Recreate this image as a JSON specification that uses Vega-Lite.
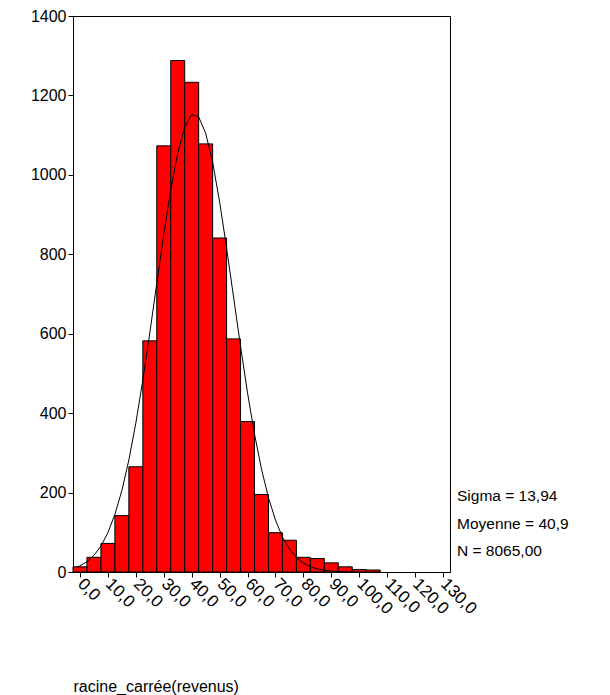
{
  "$schema": "https://vega.github.io/schema/vega-lite/v6.json",
  "width": 377,
  "height": 556,
  "autosize": {"type": "none"},
  "padding": {"left": 73, "top": 16, "right": 160, "bottom": 123},
  "background": "white",
  "config": {
    "font": "Liberation Sans",
    "view": {"stroke": "black", "strokeWidth": 1},
    "axis": {"grid": false, "domainColor": "black", "tickColor": "black", "labelColor": "black", "titleColor": "black", "labelFont": "Liberation Sans", "titleFont": "Liberation Sans", "labelFontSize": 16, "titleFontSize": 16, "titleFontWeight": "normal", "tickSize": 5}
  },
  "datasets": {
    "bins": [
      {"lo": -2.5, "hi": 2.5, "count": 13},
      {"lo": 2.5, "hi": 7.5, "count": 37},
      {"lo": 7.5, "hi": 12.5, "count": 72},
      {"lo": 12.5, "hi": 17.5, "count": 142},
      {"lo": 17.5, "hi": 22.5, "count": 265},
      {"lo": 22.5, "hi": 27.5, "count": 582},
      {"lo": 27.5, "hi": 32.5, "count": 1073},
      {"lo": 32.5, "hi": 37.5, "count": 1288},
      {"lo": 37.5, "hi": 42.5, "count": 1233},
      {"lo": 42.5, "hi": 47.5, "count": 1078},
      {"lo": 47.5, "hi": 52.5, "count": 841},
      {"lo": 52.5, "hi": 57.5, "count": 587},
      {"lo": 57.5, "hi": 62.5, "count": 379},
      {"lo": 62.5, "hi": 67.5, "count": 195},
      {"lo": 67.5, "hi": 72.5, "count": 99},
      {"lo": 72.5, "hi": 77.5, "count": 80},
      {"lo": 77.5, "hi": 82.5, "count": 37},
      {"lo": 82.5, "hi": 87.5, "count": 34},
      {"lo": 87.5, "hi": 92.5, "count": 23},
      {"lo": 92.5, "hi": 97.5, "count": 13},
      {"lo": 97.5, "hi": 102.5, "count": 6},
      {"lo": 102.5, "hi": 107.5, "count": 5}
    ],
    "curve": [
      {"lo": -1, "count": 12},
      {"lo": 0, "count": 15.6},
      {"lo": 2.5, "count": 26},
      {"lo": 5, "count": 42},
      {"lo": 7.5, "count": 65},
      {"lo": 10, "count": 99},
      {"lo": 12.5, "count": 145},
      {"lo": 15, "count": 205},
      {"lo": 17.5, "count": 282},
      {"lo": 20, "count": 375},
      {"lo": 22.5, "count": 483},
      {"lo": 25, "count": 602},
      {"lo": 27.5, "count": 727},
      {"lo": 30, "count": 850},
      {"lo": 32.5, "count": 962},
      {"lo": 35, "count": 1055},
      {"lo": 37.5, "count": 1120},
      {"lo": 40, "count": 1152},
      {"lo": 42.5, "count": 1146},
      {"lo": 45, "count": 1105},
      {"lo": 47.5, "count": 1032},
      {"lo": 50, "count": 932},
      {"lo": 52.5, "count": 816},
      {"lo": 55, "count": 692},
      {"lo": 57.5, "count": 568},
      {"lo": 60, "count": 451},
      {"lo": 62.5, "count": 347},
      {"lo": 65, "count": 259},
      {"lo": 67.5, "count": 187},
      {"lo": 70, "count": 131},
      {"lo": 72.5, "count": 88},
      {"lo": 75, "count": 58},
      {"lo": 77.5, "count": 37},
      {"lo": 80, "count": 22.6},
      {"lo": 82.5, "count": 13.4},
      {"lo": 85, "count": 7.7},
      {"lo": 87.5, "count": 4.3},
      {"lo": 90, "count": 2.3},
      {"lo": 92.5, "count": 1.2},
      {"lo": 95, "count": 0.5},
      {"lo": 97.5, "count": 0.2},
      {"lo": 100, "count": 0.1}
    ],
    "stats": [
      {"label": "Sigma = 13,94", "lo": 135, "count": 192},
      {"label": "Moyenne = 40,9", "lo": 135, "count": 122},
      {"label": "N = 8065,00", "lo": 135, "count": 52}
    ]
  },
  "encoding": {
    "x": {
      "field": "lo", "type": "quantitative",
      "scale": {"domain": [-2.5, 132.5], "nice": false, "zero": false},
      "axis": {
        "values": [0, 10, 20, 30, 40, 50, 60, 70, 80, 90, 100, 110, 120, 130],
        "labelExpr": "replace(format(datum.value, '.1f'), '.', ',')",
        "labelAngle": 45, "labelAlign": "left", "labelBaseline": "middle",
        "labelPadding": 4, "labelDx": 10, "labelFontSize": 17,
        "labelOverlap": false, "labelBound": false,
        "title": "racine_carrée(revenus)",
        "titleAnchor": "start", "titleAlign": "left", "titleBaseline": "alphabetic",
        "titleX": 0, "titleY": 119
      }
    },
    "y": {
      "field": "count", "type": "quantitative",
      "scale": {"domain": [0, 1400], "nice": false},
      "axis": {"values": [0, 200, 400, 600, 800, 1000, 1200, 1400], "format": "d", "title": null, "labelPadding": 2}
    }
  },
  "layer": [
    {
      "data": {"name": "bins"},
      "mark": {"type": "bar", "color": "#ff0000", "stroke": "black", "strokeWidth": 1},
      "encoding": {
        "x2": {"field": "hi"},
        "y2": {"datum": 0}
      }
    },
    {
      "data": {"name": "curve"},
      "mark": {"type": "line", "color": "black", "strokeWidth": 1},
      "encoding": {}
    },
    {
      "data": {"name": "stats"},
      "mark": {"type": "text", "align": "left", "baseline": "middle", "fontSize": 15.5, "color": "black", "font": "Liberation Sans"},
      "encoding": {
        "text": {"field": "label"}
      }
    }
  ]
}
